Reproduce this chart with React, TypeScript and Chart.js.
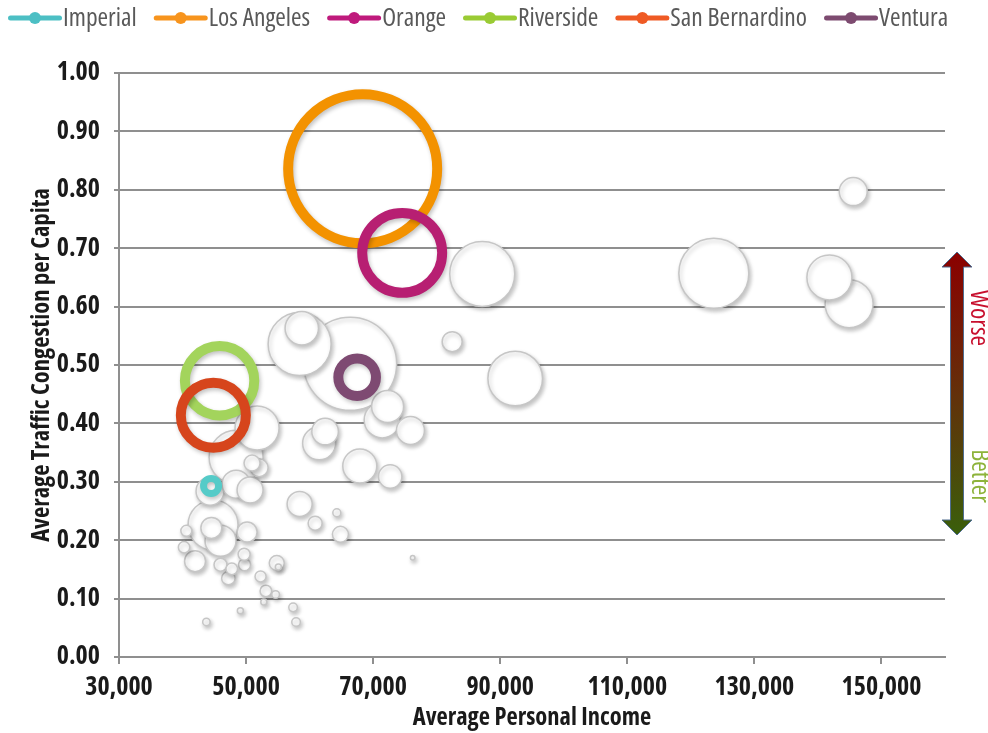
import React, { useEffect, useRef } from 'react';
import { Chart, registerables } from 'chart.js';

Chart.register(...registerables);

// ---------- Data ----------
const countyNames = ['Imperial', 'Los Angeles', 'Orange', 'Riverside', 'San Bernardino', 'Ventura'];
const countyIncome = [44490, 68350, 74570, 45830, 44850, 67480];
const countyCongestion = [0.293, 0.836, 0.692, 0.473, 0.414, 0.479];
const countyPopulation = [100, 9870, 2840, 2140, 1880, 630]; // bubble size (thousands)

const otherIncome = [
  123620, 141810, 144910, 145560, 87170, 92360, 82440, 66380, 58430, 58770,
  72280, 71420, 75870, 62440, 61500, 67900, 72680, 58430, 51730, 48430,
  50940, 52050, 44330, 48430, 50630, 44800, 44540, 45980, 50160, 40600,
  40240, 41970, 45980, 47750, 47210, 49760, 49690, 52280, 53120, 54650,
  54830, 55080, 60870, 64280, 64850, 57400, 57870, 49100, 43750, 52790,
  76220,
];
const otherCongestion = [
  0.657, 0.650, 0.605, 0.797, 0.656, 0.477, 0.540, 0.502, 0.536, 0.563,
  0.429, 0.406, 0.388, 0.386, 0.366, 0.327, 0.309, 0.262, 0.392, 0.342,
  0.332, 0.324, 0.284, 0.296, 0.286, 0.226, 0.221, 0.199, 0.214, 0.216,
  0.188, 0.164, 0.158, 0.151, 0.135, 0.158, 0.176, 0.138, 0.113, 0.107,
  0.161, 0.154, 0.229, 0.247, 0.210, 0.085, 0.060, 0.079, 0.060, 0.094,
  0.170,
];
const otherPopulation = [
  2178, 900, 1024, 348, 1878, 1325, 178, 3844, 1764, 496,
  455, 576, 348, 314, 484, 514, 243, 278, 860, 1296,
  114, 144, 348, 348, 300, 1111, 196, 427, 178, 54,
  58, 196, 75, 60, 80, 64, 64, 54, 60, 26,
  100, 16, 87, 28, 114, 33, 33, 16, 24, 16,
  9,
];

const xTickValues = [30000, 50000, 70000, 90000, 110000, 130000, 150000];
const yTickValues = [0, 0.1, 0.2, 0.3, 0.4, 0.5, 0.6, 0.7, 0.8, 0.9, 1.0];

// ---------- Styles ----------
const FAMILY = "'Open Sans', 'Noto Sans', sans-serif";
const ringColors = ['#55CBC8', '#F39200', '#B71F72', '#A3D45C', '#D6451C', '#7E4A72'];
const legendColors = ['#4CBFC4', '#F7941D', '#BF1A7C', '#9ACB34', '#EF5A24', '#7D4B70'];
const ringWidths = [7, 10, 10, 10, 10, 10];
const GRID = '#8F8F8F';
const TICK = '#1A1A1A';
const RADIUS_PER_SQRT = 0.75;
const radiusOf = (size: number) => Math.sqrt(size) * RADIUS_PER_SQRT;

const shadowPlugin = {
  id: 'bubbleShadow',
  beforeDatasetDraw(chart: any) {
    const c = chart.ctx;
    c.save();
    c.shadowColor = 'rgba(0,0,0,0.24)';
    c.shadowBlur = 4;
    c.shadowOffsetX = 1.5;
    c.shadowOffsetY = 2.5;
  },
  afterDatasetDraw(chart: any) {
    chart.ctx.restore();
  },
};

const legendPlugin = {
  id: 'lineMarkerLegend',
  afterDraw(chart: any) {
    const ctx = chart.ctx;
    ctx.save();
    ctx.font = `condensed 25.5px ${FAMILY}`;
    ctx.textBaseline = 'middle';
    ctx.textAlign = 'left';
    let x = 8;
    const y = 18;
    countyNames.forEach((name, i) => {
      ctx.strokeStyle = legendColors[i];
      ctx.lineWidth = 5;
      ctx.lineCap = 'round';
      ctx.beginPath();
      ctx.moveTo(x + 2.5, y);
      ctx.lineTo(x + 51.5, y);
      ctx.stroke();
      ctx.fillStyle = legendColors[i];
      ctx.beginPath();
      ctx.arc(x + 27, y, 6, 0, Math.PI * 2);
      ctx.fill();
      ctx.fillStyle = '#595959';
      ctx.fillText(name, x + 55, y + 1);
      x += 55 + ctx.measureText(name).width + 17;
    });
    ctx.restore();
  },
};

const arrowPlugin = {
  id: 'worseBetterArrow',
  afterDraw(chart: any) {
    const ctx = chart.ctx;
    const area = chart.chartArea;
    const cx = area.right + 12;
    const top = 252;
    const bottom = 535;
    const head = 15;
    const headHalf = 15;
    const shaftHalf = 6.5;
    ctx.save();
    const g = ctx.createLinearGradient(0, top, 0, bottom);
    g.addColorStop(0, '#8B0000');
    g.addColorStop(0.5, '#63300A');
    g.addColorStop(1, '#3A5F0B');
    ctx.beginPath();
    ctx.moveTo(cx, top);
    ctx.lineTo(cx + headHalf, top + head);
    ctx.lineTo(cx + shaftHalf, top + head);
    ctx.lineTo(cx + shaftHalf, bottom - head);
    ctx.lineTo(cx + headHalf, bottom - head);
    ctx.lineTo(cx, bottom);
    ctx.lineTo(cx - headHalf, bottom - head);
    ctx.lineTo(cx - shaftHalf, bottom - head);
    ctx.lineTo(cx - shaftHalf, top + head);
    ctx.lineTo(cx - headHalf, top + head);
    ctx.closePath();
    ctx.fillStyle = g;
    ctx.fill();
    ctx.strokeStyle = '#4F6D8F';
    ctx.lineWidth = 1;
    ctx.stroke();

    ctx.font = `condensed 25.5px ${FAMILY}`;
    ctx.textAlign = 'center';
    ctx.textBaseline = 'middle';
    const drawRot = (text: string, x: number, y: number, color: string) => {
      ctx.save();
      ctx.translate(x, y);
      ctx.rotate(Math.PI / 2);
      ctx.fillStyle = color;
      ctx.fillText(text, 0, 0);
      ctx.restore();
    };
    drawRot('Worse', area.right + 33, 318, '#C8102E');
    drawRot('Better', area.right + 34, 476, '#8DB33A');
    ctx.restore();
  },
};

export default function App() {
  const canvasRef = useRef<HTMLCanvasElement | null>(null);

  useEffect(() => {
    if (!canvasRef.current) return;
    const grayOrder = otherPopulation
      .map((_, i) => i)
      .sort((a, b) => otherPopulation[b] - otherPopulation[a]);

    const datasets: any[] = countyNames.map((name, i) => ({
      label: name,
      data: [{ x: countyIncome[i], y: countyCongestion[i], r: radiusOf(countyPopulation[i]) }],
      backgroundColor: 'rgba(255,255,255,0)',
      borderColor: ringColors[i],
      borderWidth: ringWidths[i],
      order: countyNames.length - i,
    }));
    datasets.push({
      label: 'Other counties',
      data: grayOrder.map((i) => ({ x: otherIncome[i], y: otherCongestion[i], r: radiusOf(otherPopulation[i]) })),
      backgroundColor: '#FFFFFF',
      borderColor: '#C6C6C6',
      borderWidth: 1.5,
      order: 99,
    });

    const tickFont = { family: FAMILY, size: 26, weight: 'condensed bold', lineHeight: 1 } as any;
    const titleFont = { family: FAMILY, size: 24.5, weight: 'condensed bold', lineHeight: 1.2 } as any;

    const chart = new Chart(canvasRef.current, {
      type: 'bubble',
      data: { datasets },
      options: {
        animation: false,
        responsive: true,
        maintainAspectRatio: false,
        events: [],
        layout: { autoPadding: false, padding: { top: 73, right: 43, bottom: 0, left: 0 } },
        plugins: {
          legend: { display: false },
          tooltip: { enabled: false },
        },
        scales: {
          x: {
            type: 'linear',
            min: 30000,
            max: 160000,
            afterBuildTicks: (s: any) => {
              s.ticks = xTickValues.map((v) => ({ value: v }));
            },
            afterFit: (s: any) => {
              s.height = 76;
              s.paddingLeft = 0;
              s.paddingRight = 0;
            },
            grid: { drawOnChartArea: false, drawTicks: true, tickLength: 7, color: GRID, lineWidth: 2 },
            border: { display: true, color: GRID, width: 2 },
            ticks: {
              color: TICK,
              font: tickFont,
              padding: 11,
              maxRotation: 0,
              autoSkip: false,
              callback: (v: any) => Number(v).toLocaleString('en-US'),
            },
            title: {
              display: true,
              text: 'Average Personal Income',
              color: TICK,
              font: titleFont,
              padding: { top: 4, bottom: 0 },
            },
          },
          y: {
            type: 'linear',
            min: 0,
            max: 1,
            afterBuildTicks: (s: any) => {
              s.ticks = yTickValues.map((v) => ({ value: v }));
            },
            afterFit: (s: any) => {
              s.width = 119;
              s.paddingTop = 0;
              s.paddingBottom = 0;
            },
            grid: { color: GRID, lineWidth: 2, tickLength: 5, drawTicks: true },
            border: { display: true, color: GRID, width: 2 },
            ticks: {
              color: TICK,
              font: tickFont,
              padding: 14,
              autoSkip: false,
              callback: (v: any) => Number(v).toFixed(2),
            },
            title: {
              display: true,
              text: 'Average Traffic Congestion per Capita',
              color: TICK,
              font: titleFont,
              padding: { top: 27, bottom: 0 },
            },
          },
        },
      },
      plugins: [shadowPlugin, legendPlugin, arrowPlugin],
    });
    return () => chart.destroy();
  }, []);

  return (
    <div style={{ position: 'absolute', left: 0, top: 0, width: 988, height: 733, background: '#fff' }}>
      <canvas ref={canvasRef} />
    </div>
  );
}
